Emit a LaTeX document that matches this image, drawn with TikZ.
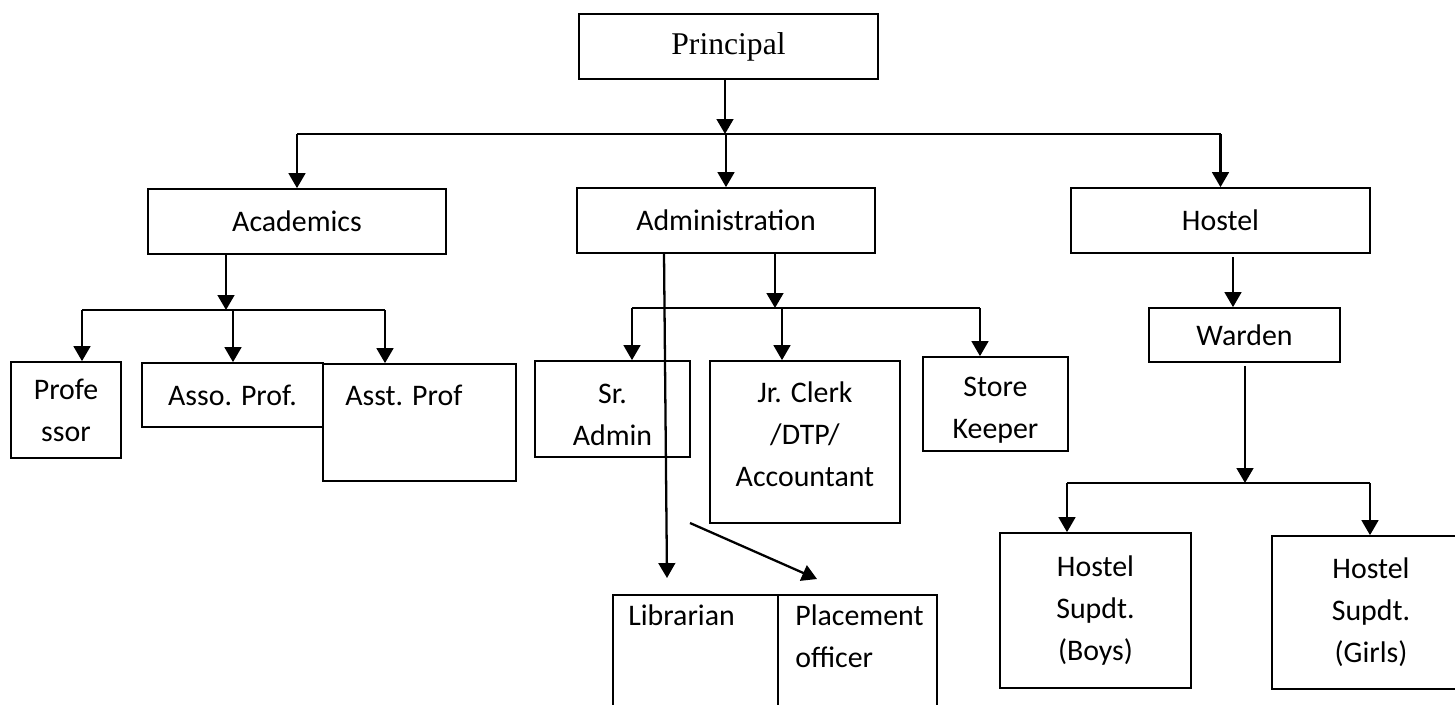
\documentclass[tikz,border=0pt]{standalone}
\usepackage{fontspec}
\setmainfont{Carlito}
\newfontfamily\princfont{Liberation Serif}
\usetikzlibrary{arrows.meta,positioning}

\begin{document}
\begin{tikzpicture}[x=0.02cm, y=-0.02cm,
  box/.style={draw, line width=1pt, inner sep=0pt, align=center, font=\fontsize{17}{24}\selectfont},
  txt/.style={inner sep=0pt, align=left, font=\fontsize{17}{24}\selectfont},
  arr/.style={line width=1.3pt, -{Triangle[length=8.5pt,width=9.5pt]}},
  bus/.style={line width=1.3pt}]
\useasboundingbox (0,0) rectangle (1455,704);
\clip (0,0) rectangle (1455,704);
% boxes
\node [box, minimum width=5.98cm, minimum height=1.3cm, font=\princfont\fontsize{18}{22}\selectfont] (principal) at (728.5,46.5) {Principal};
\node [box, minimum width=5.96cm, minimum height=1.3cm] (acad) at (297,221.5) {Academics};
\node [box, minimum width=5.96cm, minimum height=1.3cm] (admin) at (726,220.5) {Administration};
\node [box, minimum width=5.98cm, minimum height=1.3cm] (hostel) at (1220.5,220.5) {Hostel};
\node [box, minimum width=2.2cm, minimum height=1.92cm] (prof) at (66,410) {Profe\\ssor};
\node [box, minimum width=3.62cm, minimum height=1.28cm] (asso) at (232.5,395) {Asso. Prof.};
\node [box, minimum width=3.86cm, minimum height=2.34cm] (asst) at (419.5,422.5) {};
\node [txt, anchor=base west] (asst-t) at (345,405) {Asst. Prof};
\node [box, minimum width=3.1cm, minimum height=1.92cm] (sradmin) at (612.5,409) {};
\node [txt, align=center] (sradmin-t) at (612.5,415) {Sr.\\Admin};
\node [box, minimum width=3.8cm, minimum height=3.24cm] (jrclerk) at (805,442) {};
\node [txt, align=center] (jrclerk-t) at (805,434) {Jr. Clerk\\/DTP/\\Accountant};
\node [box, minimum width=2.9cm, minimum height=1.88cm] (store) at (995.5,404) {};
\node [txt, align=center] (store-t) at (995.5,410) {Store\\Keeper};
\node [box, minimum width=3.82cm, minimum height=1.08cm] (warden) at (1244.5,335) {Warden};
\node [box, minimum width=3.82cm, minimum height=3.1cm] (boys) at (1095.5,610.5) {Hostel\\Supdt.\\(Boys)};
\node [box, minimum width=3.96cm, minimum height=3.06cm] (girls) at (1371,612.5) {Hostel\\Supdt.\\(Girls)};
\node [box, minimum width=3.3cm, minimum height=3.3cm] (libr) at (695.5,677.5) {};
\node [box, minimum width=3.18cm, minimum height=3.3cm] (place) at (857.5,677.5) {};
\node [txt, anchor=base west] (libr-t) at (628,625) {Librarian};
\node [txt, anchor=north west] (place-t) at (795,604) {Placement\\officer};
% principal level
\coordinate (top) at (725,134);
\draw [arr] (principal.south -| top) -- (top);
\draw [bus] (acad.north |- top) -- (hostel.north |- top);
\foreach \n in {acad, admin, hostel}
  \draw [arr] (\n.north |- top) -- (\n.north);
% academics
\coordinate (acadbus) at (226,310);
\coordinate (p1) at (82,310);
\coordinate (p2) at (233,310);
\coordinate (p3) at (385,310);
\draw [arr] (acadbus |- acad.south) -- (acadbus);
\draw [bus] (p1) -- (p3);
\foreach \c/\n in {p1/prof, p2/asso, p3/asst}
  \draw [arr] (\c) -- (\c |- \n.north);
% administration
\coordinate (admbus) at (775,308);
\coordinate (a1) at (632,308);
\coordinate (a2) at (782,308);
\coordinate (a3) at (980,308);
\draw [arr] (admbus |- admin.south) -- (admbus);
\draw [bus] (a1) -- (a3);
\foreach \c/\n in {a1/sradmin, a2/jrclerk, a3/store}
  \draw [arr] (\c) -- (\c |- \n.north);
\coordinate (libtip) at (667,578);
\coordinate (diag) at (690,523);
\coordinate (placetip) at (817,579);
\draw [arr] ([xshift=-1.24cm]admin.south) -- (libtip);
\draw [arr] (diag) -- (placetip);
% hostel
\coordinate (h1) at (1233,257);
\coordinate (wbus) at (1245,483);
\coordinate (w1) at (1067,483);
\coordinate (w2) at (1370,483);
\draw [arr] (h1) -- (h1 |- warden.north);
\draw [arr] ([yshift=-0.06cm]warden.south -| wbus) -- (wbus);
\draw [bus] (w1) -- (w2);
\draw [arr] (w1) -- (w1 |- boys.north);
\draw [arr] (w2) -- (w2 |- girls.north);
\end{tikzpicture}
\end{document}
